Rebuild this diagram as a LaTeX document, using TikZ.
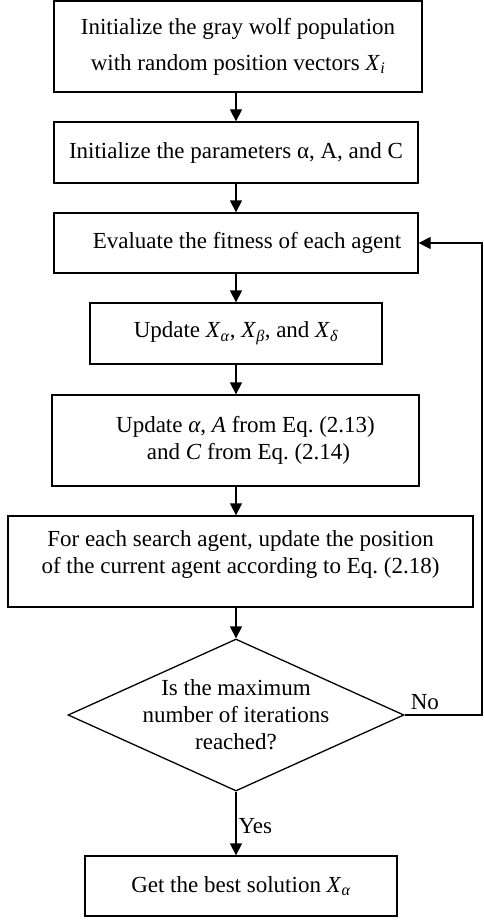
\documentclass[tikz,border=0pt]{standalone}
\usepackage{fontspec}
\setmainfont{Liberation Serif}
\usetikzlibrary{arrows.meta,shapes.geometric}
\frenchspacing
\begin{document}
\begin{tikzpicture}[x=1pt,y=1pt,
  txt/.style={font=\fontsize{23}{27}\selectfont},
  box/.style={txt,draw,line width=1.3pt,rectangle,inner sep=0pt,align=center},
  dec/.style={draw,line width=1.3pt,diamond,inner sep=0pt},
  arr/.style={line width=1.3pt,-{Triangle[length=12pt,width=12pt]}},
  lab/.style={txt,inner sep=2pt}]
\useasboundingbox (0,0) rectangle (483,-920);
\node[box,minimum width=368pt,minimum height=91pt] (b1) at (238,-46.5)
  {Initialize the gray wolf population\\[9pt] with random position vectors \textit{X}\textsubscript{\textit{i}}};
\node[box,minimum width=364pt,minimum height=61pt] (b2) at (236,-152.5)
  {Initialize the parameters α, A, and C};
\node[box,minimum width=364pt,minimum height=60pt] (b3) at (236,-243)
  {\hspace*{22pt}Evaluate the fitness of each agent};
\node[box,minimum width=292pt,minimum height=61pt] (b4) at (236,-333.5)
  {Update \textit{X}\textsubscript{\textit{α}}, \textit{X}\textsubscript{\textit{β}}, and \textit{X}\textsubscript{\textit{δ}}};
\node[box,minimum width=367pt,minimum height=91pt] (b5) at (235.5,-440.5)
  {\hspace*{20pt}Update \textit{α}, \textit{A} from Eq. (2.13)\\ \hspace*{26pt}and \textit{C} from Eq. (2.14)};
\node[box,minimum width=465pt,minimum height=91pt] (b6) at (240.5,-561.5)
  {For each search agent, update the position\\of the current agent according to Eq. (2.18)\\[-8pt]\mbox{}};
\node[dec,minimum width=336pt,minimum height=152pt,
  label={[txt,align=center]center:Is the maximum\\number of iterations\\reached?}] (d) at (236,-715) {};
\node[box,minimum width=312pt,minimum height=60pt] (b7) at (241,-886)
  {Get the best solution \textit{X}\textsubscript{\textit{α}}};
\coordinate (fb) at (482,-715);
\draw[arr] (b1.south -| b2.north) -- (b2.north);
\draw[arr] (b2) -- (b3);
\draw[arr] (b3) -- (b4);
\draw[arr] (b4) -- (b5.north -| b4.south);
\draw[arr] (b5.south -| b4.south) -- (b6.north -| b4.south);
\draw[arr] (b6.south -| d.north) -- (d.north);
\draw[arr] (d.south) -- node[lab,right,yshift=-3pt] (yes) {Yes} (d.south |- b7.north);
\draw[arr,line join=miter] (d.east) -- (fb) |- (b3.east);
\node[lab,anchor=south west,xshift=4pt,yshift=3pt] (no) at (d.east) {No};
\end{tikzpicture}
\end{document}
